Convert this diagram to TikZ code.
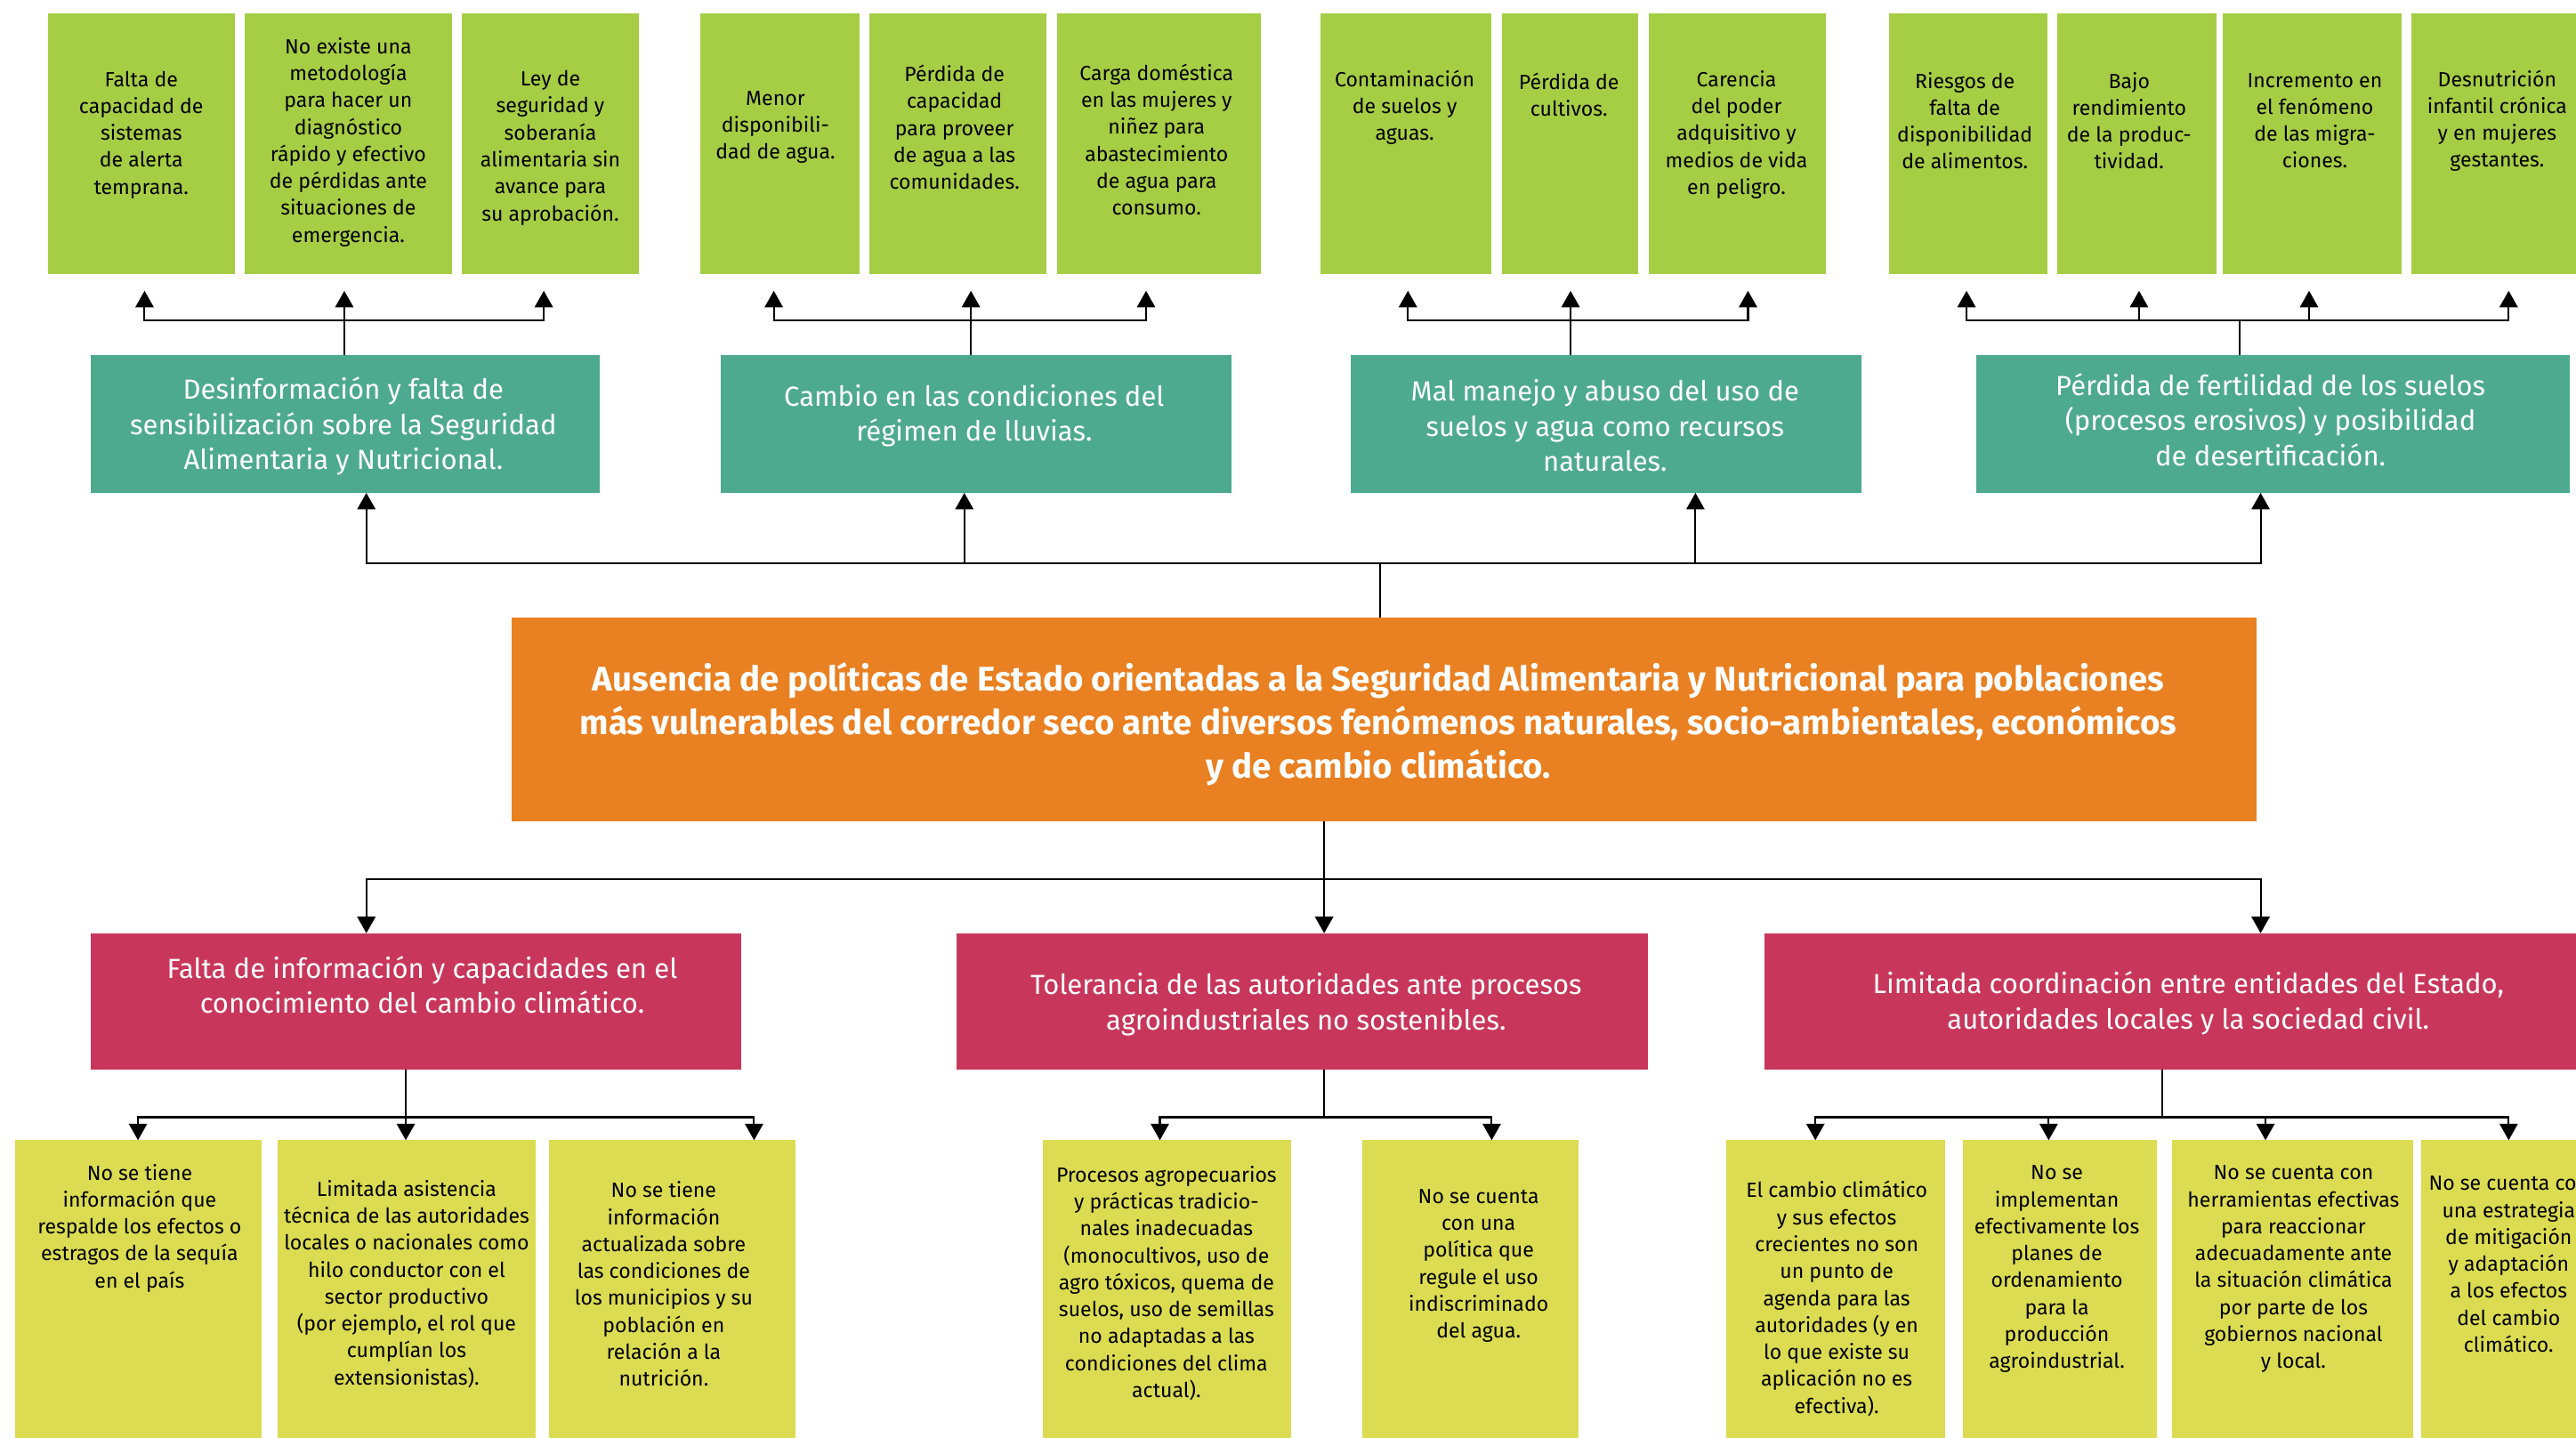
\documentclass[tikz,border=0pt]{standalone}
\usepackage{fontspec}
\setmainfont{Fira Sans}
\usetikzlibrary{arrows.meta}
\definecolor{cgreen}{HTML}{A6CE45}
\definecolor{cteal}{HTML}{4EAA8E}
\definecolor{corange}{HTML}{E98021}
\definecolor{cred}{HTML}{C8375B}
\definecolor{cyellow}{HTML}{DCDC52}
\begin{document}
\begin{tikzpicture}[x=1pt,y=-1pt,
  box/.style={rectangle, draw=none, inner sep=0pt, outer sep=0pt},
  gbox/.style={box, fill=cgreen, minimum height=159pt},
  tbox/.style={box, fill=cteal, minimum height=84pt},
  obox/.style={box, fill=corange, minimum height=124pt},
  rbox/.style={box, fill=cred, minimum height=83pt},
  ybox/.style={box, fill=cyellow, minimum height=190pt},
  small/.style={inner sep=0pt, align=center, text=black, font=\fontsize{12.5}{16.4}\selectfont},
  mid/.style={inner sep=0pt, align=center, text=white, font=\fontsize{16.8}{21.5}\selectfont},
  big/.style={inner sep=0pt, align=center, text=white, font=\fontsize{20.8}{26.5}\selectfont\bfseries},
  ln/.style={line width=1.1pt, draw=black},
  arr/.style={line width=1.1pt, draw=black, -{Triangle[length=10pt,width=11pt]}}
]
\clip (0,0) rectangle (1568,875);
\fill[white] (0,0) rectangle (1568,875);

% ---------- top effect boxes ----------
\node[gbox, minimum width=114pt] (a1) at (86,87.5) {};
\node[gbox, minimum width=126pt] (a2) at (212,87.5) {};
\node[gbox, minimum width=108pt] (a3) at (335,87.5) {};
\node[gbox, minimum width=97pt]  (b1) at (474.5,87.5) {};
\node[gbox, minimum width=108pt] (b2) at (583,87.5) {};
\node[gbox, minimum width=124pt] (b3) at (705.5,87.5) {};
\node[gbox, minimum width=104pt] (c1) at (856,87.5) {};
\node[gbox, minimum width=83pt]  (c2) at (955.5,87.5) {};
\node[gbox, minimum width=108pt] (c3) at (1057.5,87.5) {};
\node[gbox, minimum width=96pt]  (d1) at (1198,87.5) {};
\node[gbox, minimum width=97pt]  (d2) at (1300.5,87.5) {};
\node[gbox, minimum width=109pt] (d3) at (1407.5,87.5) {};
\node[gbox, minimum width=104pt] (d4) at (1520,87.5) {};

\node[small] (a1t) at (86,82) {Falta de\\capacidad de\\sistemas\\de alerta\\temprana.};
\node[small] (a2t) at (212,86.5) {No existe una\\metodología\\para hacer un\\diagnóstico\\rápido y efectivo\\de pérdidas ante\\situaciones de\\emergencia.};
\node[small] (a3t) at (335,90) {Ley de\\seguridad y\\soberanía\\alimentaria sin\\avance para\\su aprobación.};
\node[small] (b1t) at (472,77.5) {Menor\\disponibili-\\dad de agua.};
\node[small] (b2t) at (581,77.5) {Pérdida de\\capacidad\\para proveer\\de agua a las\\comunidades.};
\node[small] (b3t) at (704,85) {Carga doméstica\\en las mujeres y\\niñez para\\abastecimiento\\de agua para\\consumo.};
\node[small] (c1t) at (855,65.5) {Contaminación\\de suelos y\\aguas.};
\node[small] (c2t) at (955,57.5) {Pérdida de\\cultivos.};
\node[small] (c3t) at (1057,82) {Carencia\\del poder\\adquisitivo y\\medios de vida\\en peligro.};
\node[small] (d1t) at (1196,73.5) {Riesgos de\\falta de\\disponibilidad\\de alimentos.};
\node[small] (d2t) at (1296,73.5) {Bajo\\rendimiento\\de la produc-\\tividad.};
\node[small] (d3t) at (1409,73.5) {Incremento en\\el fenómeno\\de las migra-\\ciones.};
\node[small] (d4t) at (1520,73.5) {Desnutrición\\infantil crónica\\y en mujeres\\gestantes.};

% ---------- teal boxes ----------
\node[tbox, minimum width=310pt] (t1) at (210,258) {};
\node[tbox, minimum width=311pt] (t2) at (594,258) {};
\node[tbox, minimum width=311pt] (t3) at (977.5,258) {};
\node[tbox, minimum width=361pt] (t4) at (1383.5,258) {};
\node[mid] (t1t) at (209,259.5) {Desinformación y falta de\\sensibilización sobre la Seguridad\\Alimentaria y Nutricional.};
\node[mid] (t2t) at (593,253) {Cambio en las condiciones del\\régimen de lluvias.};
\node[mid] (t3t) at (977,259) {Mal manejo y abuso del uso de\\suelos y agua como recursos\\naturales.};
\node[mid] (t4t) at (1382,255.5) {Pérdida de fertilidad de los suelos\\(procesos erosivos) y posibilidad\\de desertificación.};

% ---------- central problem ----------
\node[obox, minimum width=1062pt] (ora) at (842.5,438) {};
\node[big] (orat) at (839,440.5) {Ausencia de políticas de Estado orientadas a la Seguridad Alimentaria y Nutricional para poblaciones\\más vulnerables del corredor seco ante diversos fenómenos naturales, socio-ambientales, económicos\\y de cambio climático.};

% ---------- red cause boxes ----------
\node[rbox, minimum width=396pt] (r1) at (253,609.5) {};
\node[rbox, minimum width=421pt] (r2) at (792.5,609.5) {};
\node[rbox, minimum width=521pt] (r3) at (1334.5,609.5) {};
\node[mid] (r1t) at (257,599.5) {Falta de información y capacidades en el\\conocimiento del cambio climático.};
\node[mid] (r2t) at (795,611.5) {Tolerancia de las autoridades ante procesos\\agroindustriales no sostenibles.};
\node[mid] (r3t) at (1332,610.5) {Limitada coordinación entre entidades del Estado,\\autoridades locales y la sociedad civil.};

% ---------- yellow sub-cause boxes ----------
\node[ybox, minimum width=150pt] (y1) at (84,789) {};
\node[ybox, minimum width=157pt] (y2) at (247.5,789) {};
\node[ybox, minimum width=150pt] (y3) at (409,789) {};
\node[ybox, minimum width=151pt] (y4) at (710.5,789) {};
\node[ybox, minimum width=132pt] (y5) at (895,789) {};
\node[ybox, minimum width=133pt] (y6) at (1117.5,789) {};
\node[ybox, minimum width=118pt] (y7) at (1254,789) {};
\node[ybox, minimum width=147pt] (y8) at (1395.5,789) {};
\node[ybox, minimum width=110pt] (y9) at (1529,789) {};

\node[small] (y1t) at (85,747.5) {No se tiene\\información que\\respalde los efectos o\\estragos de la sequía\\en el país};
\node[small] (y2t) at (247.5,781.5) {Limitada asistencia\\técnica de las autoridades\\locales o nacionales como\\hilo conductor con el\\sector productivo\\(por ejemplo, el rol que\\cumplían los\\extensionistas).};
\node[small] (y3t) at (404,781.5) {No se tiene\\información\\actualizada sobre\\las condiciones de\\los municipios y su\\población en\\relación a la\\nutrición.};
\node[small] (y4t) at (710,781) {Procesos agropecuarios\\y prácticas tradicio-\\nales inadecuadas\\(monocultivos, uso de\\agro tóxicos, quema de\\suelos, uso de semillas\\no adaptadas a las\\condiciones del clima\\actual).};
\node[small] (y5t) at (900,770.5) {No se cuenta\\con una\\política que\\regule el uso\\indiscriminado\\del agua.};
\node[small] (y6t) at (1118,790.5) {El cambio climático\\y sus efectos\\crecientes no son\\un punto de\\agenda para las\\autoridades (y en\\lo que existe su\\aplicación no es\\efectiva).};
\node[small] (y7t) at (1252,772.5) {No se\\implementan\\efectivamente los\\planes de\\ordenamiento\\para la\\producción\\agroindustrial.};
\node[small] (y8t) at (1396,772.5) {No se cuenta con\\herramientas efectivas\\para reaccionar\\adecuadamente ante\\la situación climática\\por parte de los\\gobiernos nacional\\y local.};
\node[small] (y9t) at (1527,769.5) {No se cuenta con\\una estrategia\\de mitigación\\y adaptación\\a los efectos\\del cambio\\climático.};

% ---------- connector points ----------
\coordinate (ja) at (209.6,195);
\coordinate (jb) at (591,195);
\coordinate (jc) at (956,195);
\coordinate (jd) at (1363,195);
\coordinate (a1in) at (88,177);
\coordinate (a2in) at (209.6,177);
\coordinate (a3in) at (331,177);
\coordinate (b1in) at (471,177);
\coordinate (b2in) at (591,177);
\coordinate (b3in) at (697.6,177);
\coordinate (c1in) at (857,177);
\coordinate (c2in) at (956,177);
\coordinate (c3in) at (1064,177);
\coordinate (d1in) at (1197,177);
\coordinate (d2in) at (1302,177);
\coordinate (d3in) at (1405.5,177);
\coordinate (d4in) at (1527,177);

\coordinate (jm) at (840,343);
\coordinate (t1in) at (223,300);
\coordinate (t2in) at (587,300);
\coordinate (t3in) at (1032,300);
\coordinate (t4in) at (1376,300);

\coordinate (jo) at (806,535);
\coordinate (r1in) at (223,568);
\coordinate (r2in) at (806,568);
\coordinate (r3in) at (1376,568);

\coordinate (jr1) at (247,680);
\coordinate (jr2) at (806,680);
\coordinate (jr3) at (1316,680);
\coordinate (y1in) at (84,694);
\coordinate (y2in) at (247,694);
\coordinate (y3in) at (459,694);
\coordinate (y4in) at (706,694);
\coordinate (y5in) at (908,694);
\coordinate (y6in) at (1105,694);
\coordinate (y7in) at (1247,694);
\coordinate (y8in) at (1379,694);
\coordinate (y9in) at (1527,694);

% ---------- connectors: teal -> effects ----------
\draw[ln] (t1.north -| ja) -- (ja);
\draw[arr] (ja) -| (a1in);
\draw[arr] (ja) -- (a2in);
\draw[arr] (ja) -| (a3in);
\draw[ln] (t2.north -| jb) -- (jb);
\draw[arr] (jb) -| (b1in);
\draw[arr] (jb) -- (b2in);
\draw[arr] (jb) -| (b3in);
\draw[ln] (t3.north -| jc) -- (jc);
\draw[arr] (jc) -| (c1in);
\draw[arr] (jc) -- (c2in);
\draw[arr] (jc) -| (c3in);
\draw[ln] (t4.north -| jd) -- (jd);
\draw[arr] (jd) -| (d1in);
\draw[arr] (jd) -| (d2in);
\draw[arr] (jd) -| (d3in);
\draw[arr] (jd) -| (d4in);

% ---------- connectors: central -> teal ----------
\draw[ln] (ora.north -| jm) -- (jm);
\draw[arr] (jm) -| (t1in);
\draw[arr] (jm) -| (t2in);
\draw[arr] (jm) -| (t3in);
\draw[arr] (jm) -| (t4in);

% ---------- connectors: central -> red ----------
\draw[ln] (ora.south -| jo) -- (jo);
\draw[arr] (jo) -| (r1in);
\draw[arr] (jo) -- (r2in);
\draw[arr] (jo) -| (r3in);

% ---------- connectors: red -> yellow ----------
\draw[ln] (r1.south -| jr1) -- (jr1);
\draw[arr] (jr1) -| (y1in);
\draw[arr] (jr1) -- (y2in);
\draw[arr] (jr1) -| (y3in);
\draw[ln] (r2.south -| jr2) -- (jr2);
\draw[arr] (jr2) -| (y4in);
\draw[arr] (jr2) -| (y5in);
\draw[ln] (r3.south -| jr3) -- (jr3);
\draw[arr] (jr3) -| (y6in);
\draw[arr] (jr3) -| (y7in);
\draw[arr] (jr3) -| (y8in);
\draw[arr] (jr3) -| (y9in);
\end{tikzpicture}
\end{document}
